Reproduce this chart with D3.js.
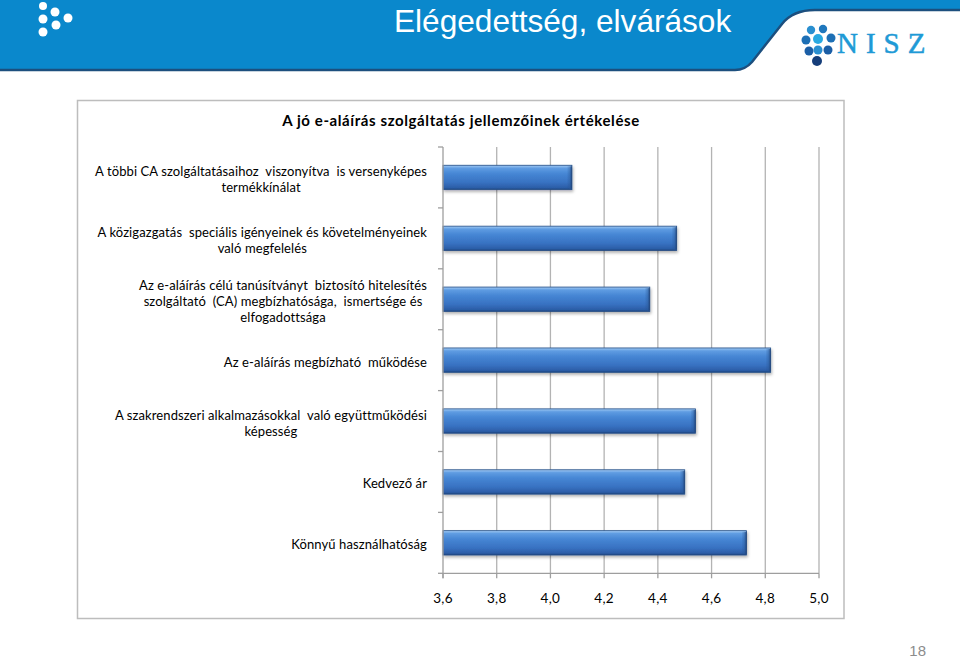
<!DOCTYPE html>
<html><head><meta charset="utf-8">
<script src="https://cdn.jsdelivr.net/npm/d3@7/dist/d3.min.js"></script>
<style>
html,body{margin:0;padding:0;background:#fff;}
svg{display:block;}
text{white-space:pre;}
</style></head>
<body>
<svg id="c" width="960" height="658"></svg>
<script>
const slideTitle = "Elégedettség, elvárások";
const chartTitle = "A jó e-aláírás szolgáltatás jellemzőinek értékelése";
const categories = [
  "A többi CA szolgáltatásaihoz  viszonyítva  is versenyképes\ntermékkínálat",
  "A közigazgatás  speciális igényeinek és követelményeinek\nvaló megfelelés",
  "Az e-aláírás célú tanúsítványt  biztosító hitelesítés\nszolgáltató  (CA) megbízhatósága,  ismertsége és\nelfogadottsága",
  "Az e-aláírás megbízható  működése",
  "A szakrendszeri alkalmazásokkal  való együttműködési\nképesség",
  "Kedvező ár",
  "Könnyű használhatóság"
];
const values = [4.08, 4.47, 4.37, 4.82, 4.54, 4.50, 4.73];
const xTicks = [3.6, 3.8, 4.0, 4.2, 4.4, 4.6, 4.8, 5.0];
const pageNumber = "18";

(function(){
const svg = d3.select("#c");
const defs = svg.append("defs");

// ---------- header ----------
svg.append("path")
  .attr("d","M0,0 H960 V10 H815 Q793,10 782,24 L752,62 Q745,70 735,70 H0 Z")
  .attr("fill","#0a88cc");
svg.append("path")
  .attr("d","M0,70 H735 Q745,70 752,62 L782,24 Q793,10 815,10 H960")
  .attr("fill","none").attr("stroke","#1c4f7e").attr("stroke-width",2.5);

const leftDots = [[43,6,4],[55,12,4.5],[43,19,4.5],[68,18,4.5],[56,25,4.5],[43,32,4.5]];
svg.append("g").selectAll("circle").data(leftDots).join("circle")
  .attr("cx",d=>d[0]).attr("cy",d=>d[1]).attr("r",d=>d[2]).attr("fill","#fff");

svg.append("text").attr("x",394).attr("y",32)
  .attr("font-family","Liberation Sans, Arial, sans-serif").attr("font-size",31.6)
  .attr("fill","#fff").text(slideTitle);

// NISZ logo
const nDots = [[818,39,5,"#29a9e1"],[806,40,4.5,"#1d6fb5"],[811,30,4.2,"#2a8fd0"],[823,29,4.2,"#1f77bd"],[831,38,4.5,"#1d6fb5"],
  [809,51,4.5,"#1b5ea6"],[818,50,4.5,"#2a8fd0"],[828,50,4.5,"#1b5ea6"],[817,61,5,"#163e7a"]];
svg.append("g").selectAll("circle").data(nDots).join("circle")
  .attr("cx",d=>d[0]).attr("cy",d=>d[1]).attr("r",d=>d[2]).attr("fill",d=>d[3]);
svg.append("text").attr("x",837).attr("y",53)
  .attr("font-family","Liberation Serif, serif").attr("font-size",29)
  .attr("letter-spacing",8).attr("fill","#1f9ad6").attr("stroke","#1f9ad6").attr("stroke-width",0.5).text("NISZ");

// ---------- chart box ----------
svg.append("rect").attr("x",77.5).attr("y",100.5).attr("width",766.5).attr("height",518)
  .attr("fill","#fff").attr("stroke","#bdbdbd").attr("stroke-width",1.5);

svg.append("text").attr("x",461).attr("y",126).attr("text-anchor","middle")
  .attr("font-family","Lato, sans-serif").attr("font-weight","bold").attr("font-size",15)
  .attr("letter-spacing",0.6).attr("fill","#000").text(chartTitle);

const pLeft=443, pRight=819, pTop=147, pBottom=573.3;
const x = d3.scaleLinear().domain([3.6,5.0]).range([pLeft,pRight]);
const y = d3.scaleBand().domain(d3.range(categories.length)).range([pTop,pBottom]).paddingInner(0.6).paddingOuter(0.3);

// gridlines
svg.append("g").selectAll("line").data(xTicks.slice(1)).join("line")
  .attr("x1",d=>x(d)).attr("x2",d=>x(d)).attr("y1",pTop).attr("y2",pBottom)
  .attr("stroke","#b3b3b3").attr("stroke-width",1.3);

// gradients
const g1 = defs.append("linearGradient").attr("id","barG").attr("x1",0).attr("y1",0).attr("x2",0).attr("y2",1);
[[0,"#a4ccf4"],[0.12,"#5f9ce2"],[0.35,"#4686d4"],[0.7,"#3872c2"],[0.92,"#2c5ea8"],[1,"#1f4680"]]
  .forEach(s=>g1.append("stop").attr("offset",s[0]).attr("stop-color",s[1]));
const g2 = defs.append("linearGradient").attr("id","capG").attr("x1",0).attr("y1",0).attr("x2",1).attr("y2",0);
[[0,"#1f4680",0],[0.5,"#2a5896",0.35],[1,"#1d3f73",0.9]]
  .forEach(s=>g2.append("stop").attr("offset",s[0]).attr("stop-color",s[1]).attr("stop-opacity",s[2]));
const f = defs.append("filter").attr("id","sh").attr("x","-5%").attr("y","-20%").attr("width","110%").attr("height","160%");
f.append("feDropShadow").attr("dx",1).attr("dy",2).attr("stdDeviation",1.5).attr("flood-color","#000").attr("flood-opacity",0.3);

const bars = svg.append("g");
values.forEach((v,i)=>{
  const bx = x(3.6), bw = x(v)-x(3.6), by = y(i), bh = y.bandwidth();
  bars.append("rect").attr("x",bx).attr("y",by).attr("width",bw).attr("height",bh)
    .attr("fill","url(#barG)").attr("stroke","#234d86").attr("stroke-width",0.8).attr("filter","url(#sh)");
  bars.append("rect").attr("x",bx+bw-5).attr("y",by+1).attr("width",5).attr("height",bh-2)
    .attr("fill","url(#capG)");
});

// axes
svg.append("line").attr("x1",pLeft).attr("x2",pLeft).attr("y1",pTop).attr("y2",pBottom+5)
  .attr("stroke","#9e9e9e").attr("stroke-width",1.3);
const bounds = d3.range(categories.length+1).map(i=>pTop + i*y.step());
svg.append("g").selectAll("line").data(bounds).join("line")
  .attr("x1",pLeft-5).attr("x2",pLeft).attr("y1",d=>d).attr("y2",d=>d)
  .attr("stroke","#9e9e9e").attr("stroke-width",1.3);
svg.append("line").attr("x1",pLeft).attr("x2",pRight).attr("y1",pBottom).attr("y2",pBottom)
  .attr("stroke","#9e9e9e").attr("stroke-width",1.3);
svg.append("g").selectAll("line").data(xTicks).join("line")
  .attr("x1",d=>x(d)).attr("x2",d=>x(d)).attr("y1",pBottom).attr("y2",pBottom+5)
  .attr("stroke","#9e9e9e").attr("stroke-width",1.3);
svg.append("g").selectAll("text").data(xTicks).join("text")
  .attr("x",d=>x(d)).attr("y",603).attr("text-anchor","middle")
  .attr("font-family","Lato, sans-serif").attr("font-size",13.5).attr("letter-spacing",0.3).attr("fill","#000")
  .text(d=>d3.format(".1f")(d).replace(".",","));

// category labels
const labelRight = 427, lh = 16;
categories.forEach((c,i)=>{
  const lines = c.split("\n");
  const cy = y(i) + y.bandwidth()/2 + 2;
  const t = svg.append("text").attr("font-family","Lato, sans-serif").attr("font-size",13)
    .attr("letter-spacing",0.1).attr("fill","#000").attr("text-anchor","middle");
  const spans = lines.map((ln,j)=> t.append("tspan").attr("y", cy + (j-(lines.length-1)/2)*lh + 4.5).text(ln));
  let w = 0;
  spans.forEach(s=>{ w = Math.max(w, s.node().getComputedTextLength()); });
  spans.forEach(s=>s.attr("x", labelRight - w/2));
});

svg.append("text").attr("x",926).attr("y",656).attr("text-anchor","end")
  .attr("font-family","Liberation Sans, Arial, sans-serif").attr("font-size",15)
  .attr("fill","#8c8c8c").text(pageNumber);
})();
</script>
</body></html>
